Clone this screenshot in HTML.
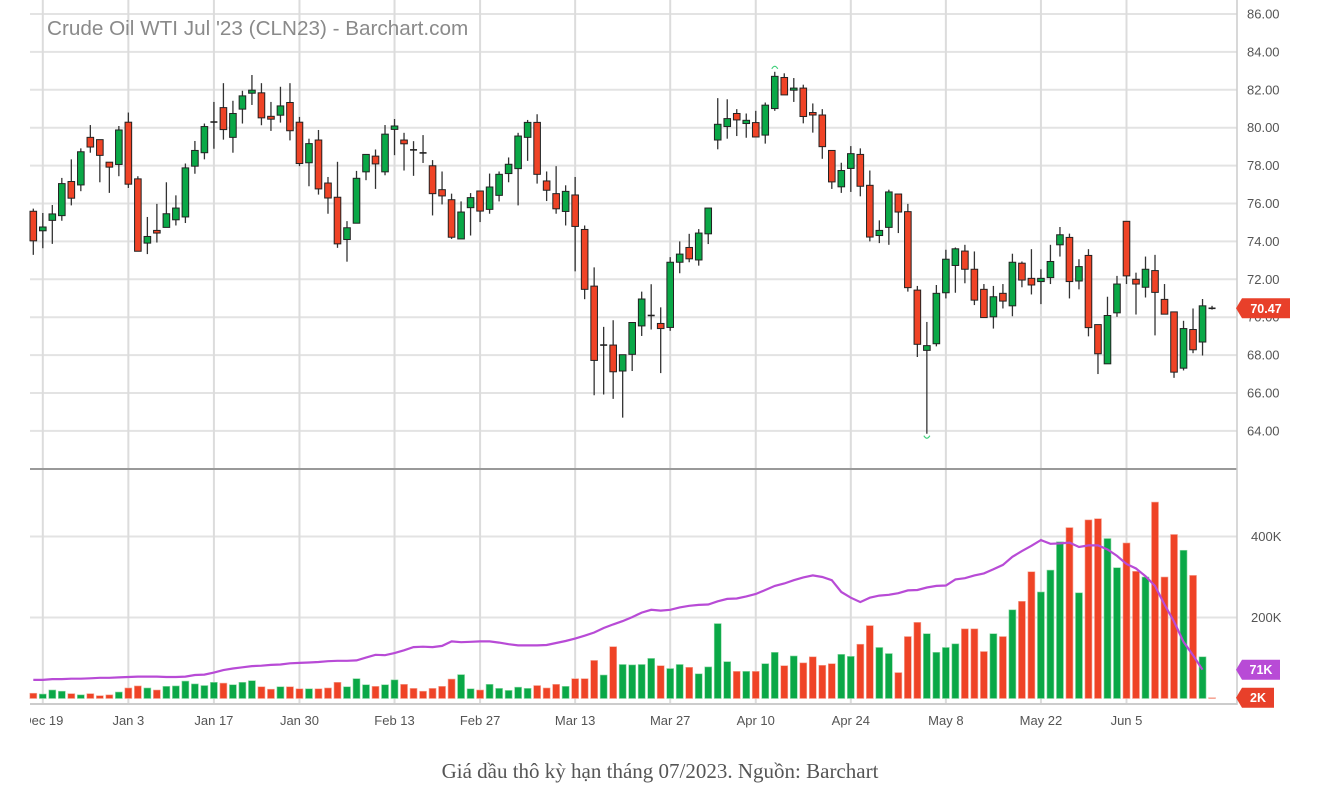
<!DOCTYPE html>
<html><head><meta charset="utf-8">
<style>
html,body{margin:0;padding:0;background:#fff;}
svg{display:block;font-family:"Liberation Sans",sans-serif;}
</style></head>
<body>
<svg id="chart" width="1338" height="789" viewBox="0 0 1338 789" xmlns="http://www.w3.org/2000/svg">
<g id="grid"></g>
<text x="47" y="35" font-size="20.7" fill="#8a8a8a">Crude Oil WTI Jul '23 (CLN23) - Barchart.com</text>
<g id="vol"></g>
<g id="ma"></g>
<g id="candles"></g>
<g id="axes"></g>
<text x="660" y="778" font-size="21" fill="#555" text-anchor="middle" style="font-family:'Liberation Serif','Noto Serif CJK SC',serif">Giá dầu thô kỳ hạn tháng 07/2023. Nguồn: Barchart</text>
</svg>
<script>
const opens=[75.59,74.56,75.11,75.36,77.16,76.98,79.49,79.37,78.18,78.06,80.29,77.3,73.91,74.58,74.74,75.14,75.29,77.97,78.68,80.3,81.06,79.49,80.98,81.82,81.84,80.6,80.66,81.33,80.29,78.15,79.35,77.08,76.33,74.1,74.96,77.67,78.5,77.67,79.91,79.35,78.83,78.67,77.99,76.73,76.2,74.13,75.78,76.66,75.69,76.43,77.58,77.84,79.49,80.28,77.19,76.52,75.58,76.45,74.63,71.64,68.53,68.53,67.16,68.04,69.54,70.09,69.67,69.46,72.9,73.68,73.02,74.4,79.35,80.06,80.75,80.22,80.27,79.61,81.01,82.65,81.98,82.09,80.8,80.67,78.8,76.88,77.85,78.59,76.96,74.31,74.74,76.5,75.57,71.43,68.25,68.6,71.29,72.73,73.49,72.53,71.47,70.02,71.26,70.6,72.85,72.05,71.88,72.09,73.82,74.21,71.91,73.26,69.61,67.54,70.23,75.06,72.0,71.58,72.46,70.94,70.28,67.31,69.35,68.69,70.47];
const closes=[74.03,74.76,75.45,77.05,76.28,78.73,78.98,78.54,77.92,79.88,77.02,73.48,74.26,74.44,75.46,75.76,77.88,78.8,80.06,80.3,79.9,80.75,81.68,81.98,80.52,80.45,81.15,79.84,78.11,79.16,76.77,76.29,73.87,74.72,77.33,78.59,78.09,79.66,80.09,79.15,78.83,78.67,76.52,76.4,74.22,75.55,76.31,75.6,76.87,77.54,78.07,79.56,80.28,77.54,76.7,75.72,76.64,74.79,71.47,67.72,68.53,67.12,68.02,69.72,70.96,70.09,69.4,72.9,73.33,73.08,74.44,75.76,80.18,80.48,80.41,80.39,79.51,81.19,82.71,81.73,82.09,80.59,80.67,79.0,77.14,77.74,78.63,76.91,74.23,74.58,76.61,75.55,71.56,68.57,68.5,71.26,73.06,73.61,72.53,70.9,69.98,71.08,70.85,72.9,71.96,71.7,72.05,72.94,74.35,71.88,72.67,69.45,68.07,70.09,71.75,72.18,71.75,72.53,71.31,70.16,67.1,69.4,68.28,70.6,70.47];
const highs=[75.73,75.5,75.92,77.35,78.33,78.91,80.14,79.37,78.18,80.09,80.8,77.44,75.29,75.98,77.12,76.43,78.11,79.3,80.22,81.36,82.35,81.42,81.95,82.78,82.35,81.36,82.16,82.35,80.57,79.42,79.88,77.4,78.2,75.07,77.72,78.59,78.85,80.14,80.46,79.73,79.29,79.61,78.29,77.69,76.52,76.11,76.55,76.66,77.58,77.69,78.43,79.73,80.41,80.71,77.69,77.97,76.96,77.4,74.84,72.63,69.49,69.84,68.02,69.72,71.35,71.74,70.52,73.17,74.0,74.4,74.65,75.76,81.56,81.5,80.98,80.75,80.89,81.33,82.95,82.87,82.62,82.27,81.28,80.98,78.8,78.15,79.03,78.91,77.74,75.11,76.73,76.5,75.98,71.65,69.75,71.7,73.56,73.68,73.82,73.47,71.75,71.65,71.75,73.35,72.94,73.59,72.53,73.82,74.76,74.41,73.06,73.59,69.61,71.08,72.18,75.06,72.35,73.2,73.29,71.75,70.28,69.81,70.46,70.96,70.6];
const lows=[73.29,73.64,73.87,75.09,75.9,76.65,78.68,77.12,76.56,77.44,76.82,73.48,73.33,73.94,74.74,74.84,74.97,77.57,78.33,78.89,79.37,78.68,80.22,81.2,80.13,79.83,80.27,79.33,77.97,76.91,76.47,75.46,73.66,72.93,74.96,77.23,76.77,77.49,78.55,77.74,77.46,78.14,75.37,75.95,74.13,74.13,74.31,75.02,75.46,76.11,77.12,75.9,78.25,77.05,76.13,75.46,74.84,72.42,70.95,65.88,65.92,65.69,64.7,67.16,69.01,69.35,67.05,69.28,72.32,72.9,72.72,73.86,78.86,79.42,79.56,79.47,79.51,79.16,80.89,81.73,81.36,80.23,79.74,78.36,76.77,76.56,76.61,76.38,74.0,73.91,73.82,74.44,71.35,67.9,63.85,68.46,70.99,71.29,71.79,70.64,69.98,69.4,70.46,70.05,71.58,71.2,70.69,71.75,73.2,70.99,71.47,68.99,67.0,67.54,70.02,71.75,70.14,71.04,69.04,70.16,66.8,67.19,68.1,67.98,70.4];
const volumes=[13,11,21,18,12,9,12,7,9,16,26,31,26,21,30,31,43,36,32,40,38,34,40,44,29,23,29,29,24,24,24,26,40,29,49,34,30,34,46,35,25,18,25,30,48,59,24,21,35,25,20,28,25,32,26,35,30,49,49,94,58,128,84,83,84,99,81,74,84,77,61,78,185,91,67,67,67,86,114,81,105,88,103,82,86,109,104,134,180,126,111,64,153,188,160,114,126,135,172,172,116,160,153,219,240,313,263,317,387,422,261,441,444,395,323,384,314,300,485,300,405,366,304,103,2];
const volUp=[0,1,1,1,0,1,0,0,0,1,0,0,1,0,1,1,1,1,1,1,0,1,1,1,0,0,1,0,0,1,0,0,0,1,1,1,0,1,1,0,0,0,0,0,0,1,1,0,1,1,1,1,1,0,0,0,1,0,0,0,1,0,1,1,1,1,0,1,1,0,1,1,1,1,0,1,0,1,1,0,1,0,0,0,0,1,1,0,0,1,1,0,0,0,1,1,1,1,0,0,0,1,0,1,0,0,1,1,1,0,1,0,0,1,1,0,0,1,0,0,0,1,0,1,0];
const volAvg=[46,46,48,48,49,49,50,51,51,52,53,54,54,54,53,53,54,58,59,64,70,74,77,80,81,83,84,87,88,89,90,92,93,93,94,101,108,107,112,119,127,128,127,130,141,139,140,141,141,138,134,131,131,131,132,137,142,148,155,163,174,183,191,201,212,219,217,219,225,229,231,232,240,246,247,252,258,268,278,284,292,299,304,300,292,263,249,238,249,254,256,260,267,268,274,278,279,294,297,304,309,319,330,350,364,377,391,382,383,385,374,378,378,368,352,332,321,302,278,232,190,140,107,71];
const dateIdx=[1,10,19,28,38,47,57,67,76,86,96,106,115];
const dateLabels=["Dec 19","Jan 3","Jan 17","Jan 30","Feb 13","Feb 27","Mar 13","Mar 27","Apr 10","Apr 24","May 8","May 22","Jun 5"];
const priceTicks=[64,66,68,70,72,74,76,78,80,82,84,86];
const volTicks=[200,400];
const lastPrice=70.47, lastAvgLabel="71K", lastVolLabel="2K";

const NS="http://www.w3.org/2000/svg";
function xOf(i){return 33.3+i*9.506;}
function yP(p){return 14+(86-p)*18.95;}
function yV(v){return 698.5-v*0.405;}
function mk(tag,attrs,parent){const e=document.createElementNS(NS,tag);for(const k in attrs)e.setAttribute(k,attrs[k]);parent.appendChild(e);return e;}
const grid=document.getElementById('grid'),axes=document.getElementById('axes');
const GREEN="#0aa847",RED="#ef4326";

const defs=mk('defs',{},document.getElementById('chart'));
const cp=mk('clipPath',{id:'plotclip'},defs);
mk('rect',{x:30,y:0,width:1207,height:789},cp);

priceTicks.forEach(p=>{
  const l=mk('line',{x1:30,x2:1237,y1:yP(p),y2:yP(p),stroke:"#e3e3e3","stroke-width":2},grid);
  
  
  const t=mk('text',{x:1247,y:yP(p)+4.5,"font-size":13,fill:"#555"},axes);
  t.textContent=p.toFixed(2);
  
  
});
volTicks.forEach(v=>{
  const l=mk('line',{x1:30,x2:1237,y1:yV(v),y2:yV(v),stroke:"#e3e3e3","stroke-width":2},grid);
  
  
  const t=mk('text',{x:1251,y:yV(v)+4.5,"font-size":13,fill:"#555"},axes);
  t.textContent=v+"K";
  
  
});
dateIdx.forEach((d,k)=>{
  const x=xOf(d);
  const l=mk('line',{x1:x,x2:x,y1:0,y2:705,stroke:"#dcdcdc","stroke-width":2},grid);
  
  
  const t=mk('text',{x:x,y:725,"font-size":13,fill:"#555","text-anchor":"middle","clip-path":"url(#plotclip)"},axes);
  t.textContent=dateLabels[k];
  
  
});
const sep=mk('line',{x1:30,x2:1237,y1:469,y2:469,stroke:"#999","stroke-width":2},grid);


const bl=mk('line',{x1:30,x2:1237,y1:704,y2:704,stroke:"#ccc","stroke-width":2},grid);


const rl=mk('line',{x1:1237,x2:1237,y1:0,y2:705,stroke:"#ccc","stroke-width":1.5},grid);



const vg=document.getElementById('vol');
volumes.forEach((v,i)=>{
  const y=yV(v);
  const r=mk('rect',{x:xOf(i)-3.5,y:y,width:7,height:Math.max(698.5-y,0.8),fill:volUp[i]?GREEN:RED,stroke:volUp[i]?"#8fd9a6":"#f5a898","stroke-width":0.6},vg);
  
  
});
let d="";
volAvg.forEach((v,i)=>{d+=(i?"L":"M")+xOf(i).toFixed(1)+","+yV(v).toFixed(1);});
const ml=mk('path',{d:d,fill:"none",stroke:"#b84bd6","stroke-width":2.2},document.getElementById('ma'));



const cg=document.getElementById('candles');
opens.forEach((o,i)=>{
  const c=closes[i],x=xOf(i);
  const w=mk('line',{x1:x,x2:x,y1:yP(highs[i]),y2:yP(lows[i]),stroke:"#333","stroke-width":1.3},cg);
  
  
  if(Math.abs(o-c)<0.02){
    const dl=mk('line',{x1:x-3.5,x2:x+3.5,y1:yP(o),y2:yP(o),stroke:"#222","stroke-width":1.6},cg);
    
    
  }else{
    const top=yP(Math.max(o,c)),bot=yP(Math.min(o,c));
    const b=mk('rect',{x:x-3.3,y:top,width:6.6,height:Math.max(bot-top,1.5),fill:c>o?GREEN:RED,stroke:"#222","stroke-width":1},cg);
    
    
  }
});
function arcMark(i,y,up){
  const x=xOf(i);
  const p=mk('path',{d:up?`M${x-3},${y+2} Q${x},${y-3} ${x+3},${y+2}`:`M${x-3},${y-2} Q${x},${y+3} ${x+3},${y-2}`,fill:"none",stroke:"#3fd07a","stroke-width":1.2},cg);
  
  
}
arcMark(78,yP(highs[78])-5,true);
arcMark(94,yP(lows[94])+4,false);

function badge(y,label,color,w,name){
  const g=mk('g',{},axes);
  
  
  mk('path',{d:`M1236,${y} L1242,${y-10} L${1242+w},${y-10} L${1242+w},${y+10} L1242,${y+10} Z`,fill:color},g);
  const t=mk('text',{x:1242+w/2,y:y+4.5,"font-size":12.5,"font-weight":"bold",fill:"#fff","text-anchor":"middle"},g);
  t.textContent=label;
}
badge(yP(lastPrice),lastPrice.toFixed(2),"#e8402a",48,"last-price-badge");
badge(yV(volAvg[volAvg.length-1]),lastAvgLabel,"#b84bd6",38,"volume-average-badge");
badge(yV(volumes[volumes.length-1]),lastVolLabel,"#e8402a",32,"last-volume-badge");
</script>
</body></html>
